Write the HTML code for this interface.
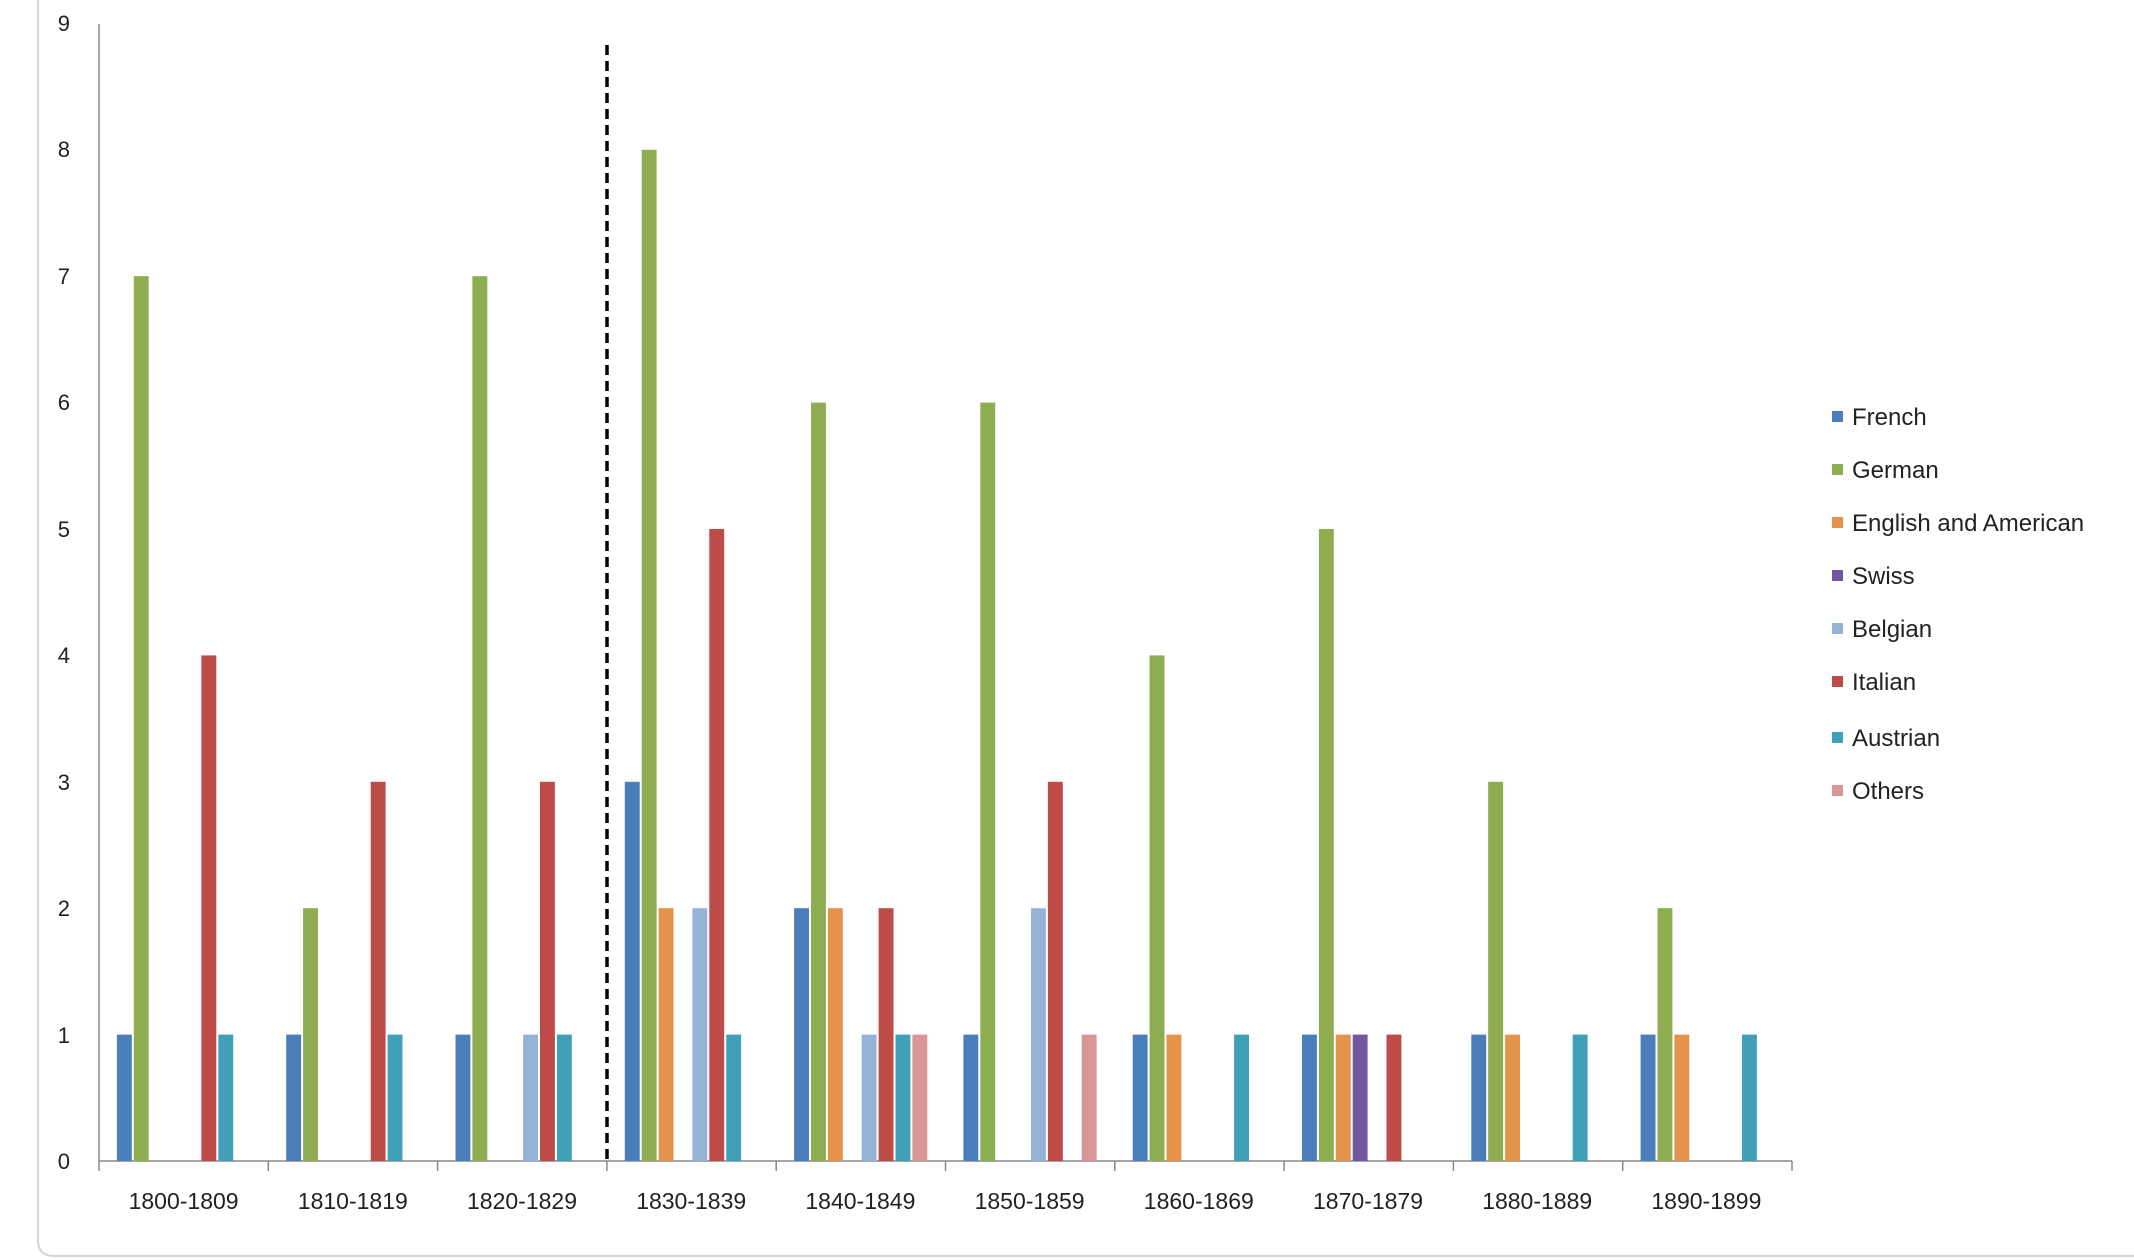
<!DOCTYPE html>
<html><head><meta charset="utf-8"><style>
html,body{margin:0;padding:0;background:#fff;}
svg{display:block;font-family:"Liberation Sans","DejaVu Sans",sans-serif;}
</style></head><body>
<svg id="c" width="2134" height="1260" viewBox="0 0 2134 1260" xmlns="http://www.w3.org/2000/svg">
<rect x="0" y="0" width="2134" height="1260" fill="#fff"/>
<path d="M38 0 V1240 Q38 1256 54 1256 H2134" fill="none" stroke="#d4d4d4" stroke-width="2"/>
<g id="grid" stroke="#888" stroke-width="1.5">
<line x1="99" y1="24" x2="99" y2="1161"/>
<line x1="99" y1="1161" x2="1792" y2="1161"/>
</g>
<g id="bars"></g>
<line x1="607" y1="45" x2="607" y2="1161" stroke="#000" stroke-width="3.5" stroke-dasharray="10,6"/>
<g font-size="22" fill="#222" text-anchor="end">
<text x="70" y="1169">0</text><text x="70" y="1043">1</text><text x="70" y="916">2</text>
<text x="70" y="790">3</text><text x="70" y="663">4</text><text x="70" y="537">5</text>
<text x="70" y="410">6</text><text x="70" y="284">7</text><text x="70" y="157">8</text>
<text x="70" y="31">9</text>
</g>
<g font-size="23" fill="#222" text-anchor="middle">
<text x="183.6" y="1209">1800-1809</text><text x="352.8" y="1209">1810-1819</text>
<text x="522" y="1209">1820-1829</text><text x="691.2" y="1209">1830-1839</text>
<text x="860.4" y="1209">1840-1849</text><text x="1029.6" y="1209">1850-1859</text>
<text x="1198.8" y="1209">1860-1869</text><text x="1368" y="1209">1870-1879</text>
<text x="1537.2" y="1209">1880-1889</text><text x="1706.4" y="1209">1890-1899</text>
</g>
<g font-size="24" fill="#222">
<rect x="1832" y="411" width="11" height="11" fill="#4a7ebb"/><text x="1852" y="425">French</text>
<rect x="1832" y="464" width="11" height="11" fill="#8eac50"/><text x="1852" y="478">German</text>
<rect x="1832" y="517" width="11" height="11" fill="#e5924a"/><text x="1852" y="531">English and American</text>
<rect x="1832" y="570" width="11" height="11" fill="#6f58a0"/><text x="1852" y="584">Swiss</text>
<rect x="1832" y="623" width="11" height="11" fill="#95b3d7"/><text x="1852" y="637">Belgian</text>
<rect x="1832" y="676" width="11" height="11" fill="#be4b48"/><text x="1852" y="690">Italian</text>
<rect x="1832" y="732" width="11" height="11" fill="#3fa0b8"/><text x="1852" y="746">Austrian</text>
<rect x="1832" y="785" width="11" height="11" fill="#d99694"/><text x="1852" y="799">Others</text>
</g>
</svg>
<script>
var cols=["#4a7ebb","#8eac50","#e5924a","#6f58a0","#95b3d7","#be4b48","#3fa0b8","#d99694"];
var d=[[1,7,0,0,0,4,1,0],[1,2,0,0,0,3,1,0],[1,7,0,0,1,3,1,0],[3,8,2,0,2,5,1,0],[2,6,2,0,1,2,1,1],
[1,6,0,0,2,3,0,1],[1,4,1,0,0,0,1,0],[1,5,1,1,0,1,0,0],[1,3,1,0,0,0,1,0],[1,2,1,0,0,0,1,0]];
var g=document.getElementById("bars"),s="";
var x0=99,cw=169.3,bw=16.9,y0=1161,u=126.4;
for(var i=0;i<10;i++){
 s+='<line x1="'+(x0+i*cw)+'" y1="1161" x2="'+(x0+i*cw)+'" y2="1171" stroke="#888" stroke-width="1.5"/>';
 for(var k=0;k<8;k++){var v=d[i][k];if(!v)continue;
  var x=x0+i*cw+bw+k*bw;
  s+='<rect x="'+(x+1)+'" y="'+(y0-v*u)+'" width="'+(bw-2)+'" height="'+(v*u)+'" fill="'+cols[k]+'"/>';}
}
s+='<line x1="1792" y1="1161" x2="1792" y2="1171" stroke="#888" stroke-width="1.5"/>';
g.innerHTML=s;
</script>
</body></html>
